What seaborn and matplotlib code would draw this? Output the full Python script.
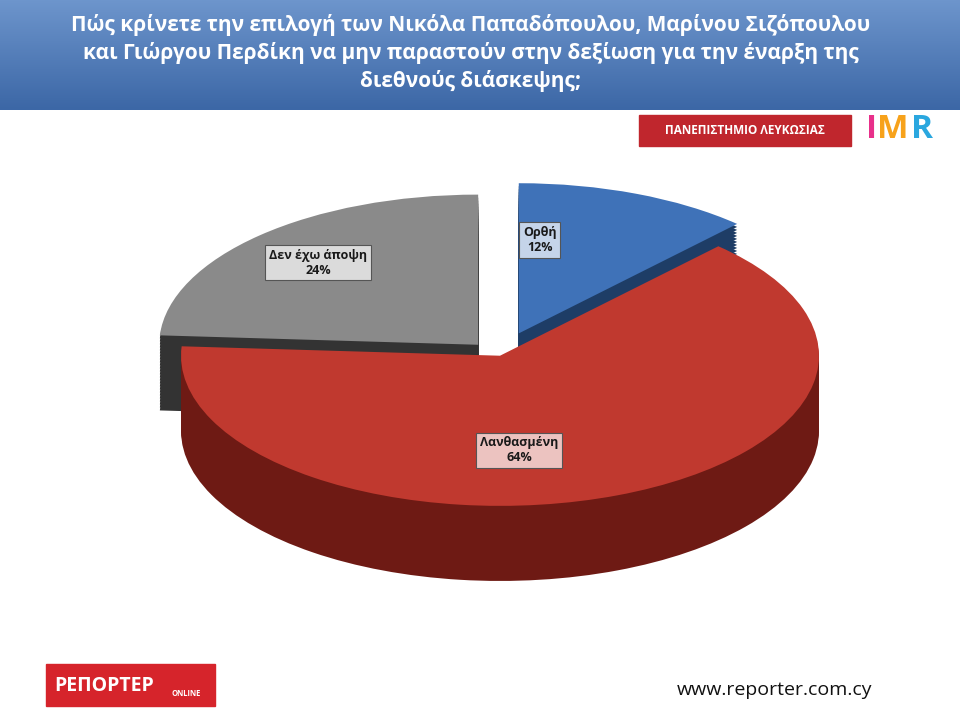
import numpy as np
import matplotlib
matplotlib.use("Agg")
import matplotlib.pyplot as plt
import seaborn as sns
from matplotlib.patches import Rectangle

sns.set_theme(style="white")
plt.rcParams["font.family"] = "Open Sans"

# data
labels = ["Ορθή", "Λανθασμένη", "Δεν έχω άποψη"]
values = [12, 64, 24]
top_colors = ["#3f72b8", "#c0392f", "#8a8a8a"]
side_colors = ["#1e3d66", "#6e1a14", "#333333"]
explode = [0.16, 0.0, 0.1]
title = ("Πώς κρίνετε την επιλογή των Νικόλα Παπαδόπουλου, Μαρίνου Σιζόπουλου\n"
         "και Γιώργου Περδίκη να μην παραστούν στην δεξίωση για την έναρξη της\n"
         "διεθνούς διάσκεψης;")

fig = plt.figure(figsize=(9.6, 7.2), dpi=100)
fig.patch.set_facecolor("white")

# title banner with gradient
bax = fig.add_axes([0, 1 - 110 / 720, 1, 110 / 720])
grad = np.linspace(0, 1, 100).reshape(-1, 1)
bax.imshow(grad, aspect="auto", cmap=matplotlib.colors.LinearSegmentedColormap.from_list(
    "b", ["#6d95cc", "#3c67a6"]), extent=[0, 1, 0, 1])
bax.set_xlim(0, 1); bax.set_ylim(0, 1); bax.axis("off")
bax.text(0.49, 0.52, title, ha="center", va="center", color="white",
         fontsize=15, fontweight="bold", linespacing=1.35)

# pie, pseudo 3D by stacking layers
ax = fig.add_axes([130 / 960, 1 - 620 / 720, 740 / 960, 470 / 720])
depth = 0.5
for k in np.linspace(depth, 0.02, 25):
    ax.pie(values, colors=side_colors, explode=explode, startangle=90,
           counterclock=False, center=(0, -k), radius=1.0,
           wedgeprops=dict(linewidth=0))
ax.pie(values, colors=top_colors, explode=explode, startangle=90,
       counterclock=False, center=(0, 0), radius=1.0,
       wedgeprops=dict(linewidth=0))
ax.set_aspect("auto")
ax.set_xlim(-1.16, 1.16)
ax.set_ylim(-1.76, 1.37)
ax.axis("off")

label_pos = [(0.125, 0.77), (0.06, -0.63), (-0.57, 0.62)]
for lab, v, (x, y) in zip(labels, values, label_pos):
    ax.text(x, y, f"{lab}\n{v}%", ha="center", va="center", fontsize=9,
            fontweight="bold", color="#1a1a1a",
            bbox=dict(boxstyle="square,pad=0.3", fc=(1, 1, 1, 0.7), ec="#555555", lw=0.8))

# logos / footer
fax = fig.add_axes([0, 0, 1, 1])
fax.set_xlim(0, 960); fax.set_ylim(720, 0); fax.axis("off")
fax.add_patch(Rectangle((639, 115), 212, 31, color="#c0262d"))
fax.text(745, 131, "ΠΑΝΕΠΙΣΤΗΜΙΟ ΛΕΥΚΩΣΙΑΣ", ha="center", va="center",
         color="white", fontsize=8.5, fontweight="bold")
for ch, c, x in zip("IMR", ["#e8308a", "#f7a21b", "#2aa7df"], [872, 893, 922]):
    fax.text(x, 130, ch, ha="center", va="center", color=c, fontsize=24, fontweight="bold")
fax.add_patch(Rectangle((46, 664), 169, 42, color="#d6242b"))
fax.text(54, 686, "ΡΕΠΟΡΤΕΡ", ha="left", va="center", color="white",
         fontsize=14, fontweight="bold")
fax.text(172, 694, "ONLINE", ha="left", va="center", color="white", fontsize=5.5, fontweight="bold")
fax.text(775, 690, "www.reporter.com.cy", ha="center", va="center", color="#111111", fontsize=14)

fig.savefig("out.png", dpi=100)
